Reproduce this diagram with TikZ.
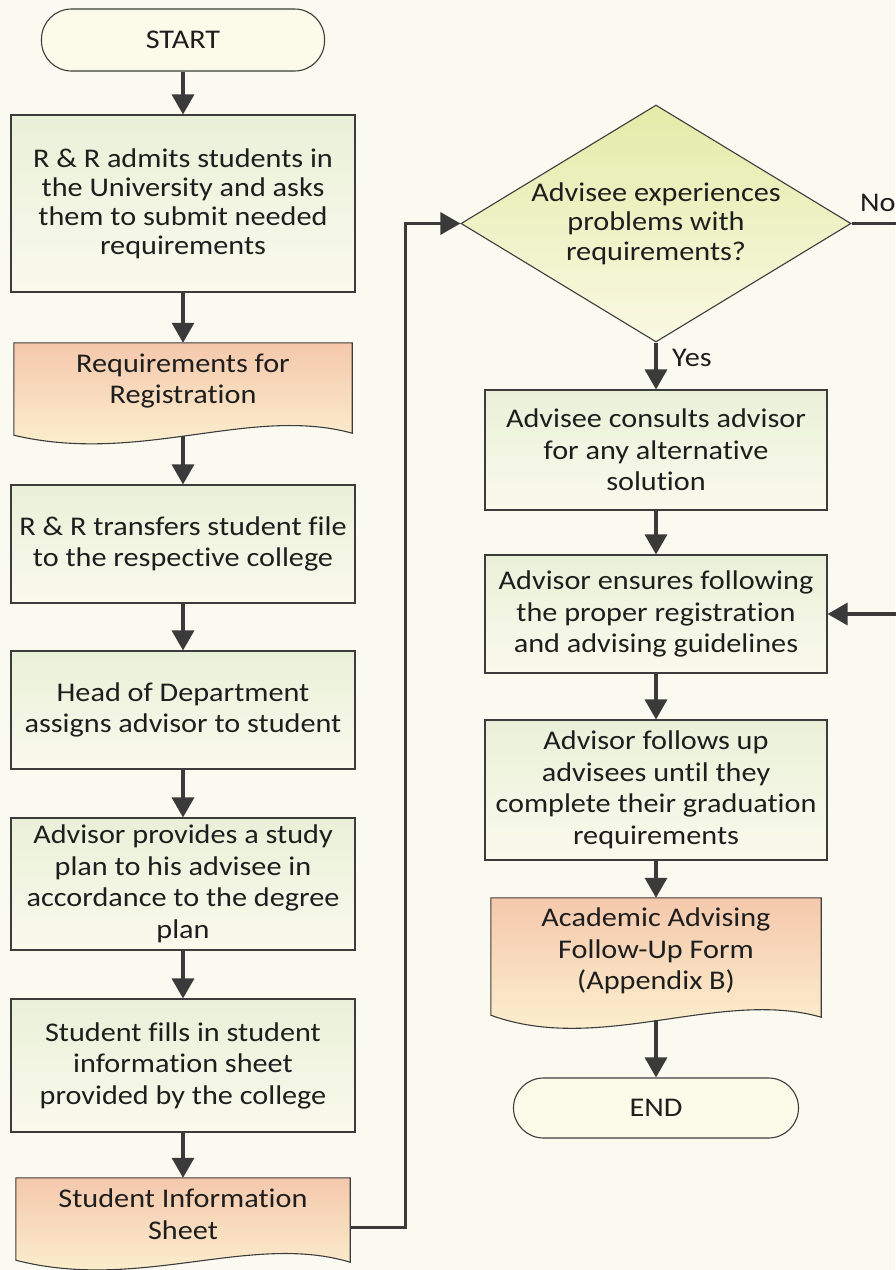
\documentclass[tikz,border=0pt]{standalone}
\usepackage{fontspec}
\setmainfont[FakeStretch=1.12,RawFeature=-liga]{Carlito}
\usetikzlibrary{arrows.meta,calc,shapes.geometric}
\definecolor{bgcol}{RGB}{251,250,240}
\definecolor{bordercol}{RGB}{60,60,60}
\definecolor{arrcol}{RGB}{58,58,58}
\definecolor{textcol}{RGB}{30,30,30}
\definecolor{boxtop}{RGB}{233,240,216}
\definecolor{boxbot}{RGB}{250,250,236}
\definecolor{doctop}{RGB}{245,200,172}
\definecolor{docbot}{RGB}{252,246,212}
\definecolor{diatop}{RGB}{226,236,168}
\definecolor{diabot}{RGB}{250,248,226}
\definecolor{termfill}{RGB}{252,251,234}
\newcommand\fs{\fontsize{27}{31.5}\selectfont}
\pgfdeclarelayer{bg}
\pgfdeclarelayer{shp}
\pgfsetlayers{bg,shp,main}
\tikzset{
  procbox/.style={rectangle, draw=bordercol, line width=1.1pt, top color=boxtop, bottom color=boxbot,
    minimum width=342pt, inner sep=0pt, align=center, font=\fs, text=textcol},
  docnode/.style={rectangle, inner sep=0pt, align=center, font=\fs, text=textcol},
  docshape/.style={draw=bordercol, line width=1.1pt, top color=doctop, bottom color=docbot},
  termbox/.style={rectangle, rounded corners=30pt, draw=bordercol, line width=1.1pt, fill=termfill,
    inner sep=0pt, align=center, font=\fs, text=textcol},
  decbox/.style={diamond, aspect=1.646, draw=bordercol, line width=1.1pt, top color=diatop, bottom color=diabot,
    inner sep=-8pt, align=center, font=\fontsize{27}{29.5}\selectfont, text=textcol},
  lbl/.style={font=\fs, text=textcol, inner sep=0pt},
  arr/.style={draw=arrcol, line width=3.2pt, -{Triangle[width=22pt,length=20pt]}, line join=miter}
}
\begin{document}
\begin{tikzpicture}[x=1pt,y=-1pt]
\useasboundingbox (0,0) rectangle (895,1270);
\begin{pgfonlayer}{bg}
\fill[bgcol] (0,0) rectangle (895,1270);
\end{pgfonlayer}

% left column
\node[termbox, minimum width=283pt, minimum height=62pt] (start) at (183,40) {START};
\node[procbox, minimum width=344pt, minimum height=177pt, font=\fontsize{27}{29}\selectfont] (b1) at (183,203.5)
  {R \& R admits students in\\the University and asks\\them to submit needed\\requirements};
\node[docnode, minimum width=338pt, minimum height=76pt] (d1) at (183,381) {Requirements for\\Registration};
\node[procbox, minimum width=344pt, minimum height=118pt] (b2) at (183,544)
  {R \& R transfers student file\\to the respective college};
\node[procbox, minimum width=344pt, minimum height=118pt] (b3) at (183,710)
  {Head of Department\\assigns advisor to student};
\node[procbox, minimum width=344pt, minimum height=132pt] (b4) at (183,884)
  {Advisor provides a study\\plan to his advisee in\\accordance to the degree\\plan};
\node[procbox, minimum width=344pt, minimum height=133pt] (b5) at (183,1065.5)
  {Student fills in student\\information sheet\\provided by the college};
\node[docnode, minimum width=334pt, minimum height=72pt] (d2) at (183,1214) {Student Information\\Sheet};

% right column
\node[decbox, minimum width=390pt, minimum height=237pt] (dia) at (656,223.5)
  {Advisee experiences\\problems with\\requirements?};
\node[procbox, minimum height=120pt] (b6) at (656,450)
  {Advisee consults advisor\\for any alternative\\solution};
\node[procbox, minimum height=118pt] (b7) at (656,614)
  {Advisor ensures following\\the proper registration\\and advising guidelines};
\node[procbox, minimum height=140pt] (b8) at (656,790)
  {Advisor follows up\\advisees until they\\complete their graduation\\requirements};
\node[docnode, minimum width=330pt, minimum height=106pt] (d3) at (656,951)
  {Academic Advising\\Follow-Up Form\\(Appendix B)};
\node[termbox, minimum width=285pt, minimum height=60pt] (end) at (656,1108) {END};

\node[lbl, anchor=west] (yes) at (672,358) {Yes};
\node[lbl, anchor=west] (no) at (860,203) {No};

% document shapes
\begin{pgfonlayer}{shp}
\path[docshape] (d1.north west) -- (d1.north east) -- ($(d1.south east)+(0,14)$)
  .. controls ($(d1.south east)+(-102,-14)$) and ($(d1.south west)+(126,46)$) .. ($(d1.south west)+(0,16)$) -- cycle;
\path[docshape] (d2.north west) -- (d2.north east) -- ($(d2.south east)+(0,12)$)
  .. controls ($(d2.south east)+(-100,-18)$) and ($(d2.south west)+(124,42)$) .. ($(d2.south west)+(0,10)$) -- cycle;
\path[docshape] (d3.north west) -- (d3.north east) -- ($(d3.south east)+(0,13)$)
  .. controls ($(d3.south east)+(-101,-16)$) and ($(d3.south west)+(109,51)$) .. ($(d3.south west)+(0,11)$) -- cycle;
\end{pgfonlayer}

\coordinate (d1b) at ($(d1.south)+(0,17)$);
\coordinate (d3b) at ($(d3.south)+(0,16)$);
\coordinate (d2r) at ($(d2.south east)+(0,-23)$);

% connectors
\draw[arr] (start) -- (b1);
\draw[arr] (b1) -- (d1.north);
\draw[arr] (d1b) -- (b2.north);
\draw[arr] (b2) -- (b3);
\draw[arr] (b3) -- (b4);
\draw[arr] (b4) -- (b5);
\draw[arr] (b5) -- (d2.north);
\draw[arr] (d2r) -- ++(55,0) |- (dia.west);
\draw[arr] (dia.south) -- (b6.north);
\draw[arr] (b6) -- (b7);
\draw[arr] (b7) -- (b8);
\draw[arr] (b8) -- (d3.north);
\draw[arr] (d3b) -- (end.north);
\draw[arr] (dia.east) -- ++(60,0) |- (b7.east);
\end{tikzpicture}
\end{document}
